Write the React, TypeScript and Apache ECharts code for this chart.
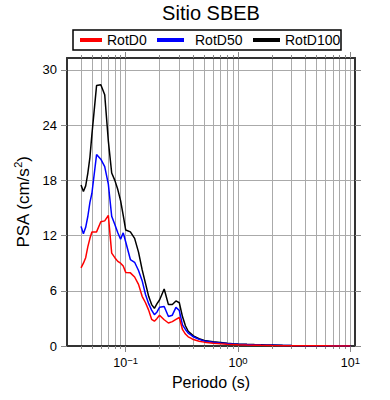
import React, { useEffect, useRef } from 'react';
import * as echarts from 'echarts';

const periods = [
  0.04, 0.042, 0.044, 0.046, 0.048, 0.05, 0.055, 0.06, 0.065, 0.07,
  0.075, 0.08, 0.085, 0.09, 0.095, 0.1, 0.11, 0.12, 0.13, 0.14,
  0.15, 0.16, 0.17, 0.18, 0.19, 0.2, 0.22, 0.24, 0.26, 0.28,
  0.3, 0.32, 0.34, 0.36, 0.38, 0.4, 0.45, 0.5, 0.6, 0.7,
  0.8, 0.9, 1.0, 1.2, 1.4, 1.6, 1.8, 2.0, 2.5, 3.0,
  4.0, 5.0, 6.0, 7.0, 8.0, 9.0, 10.0,
];

const rotD0 = [
  8.5, 9.0, 9.6, 10.8, 11.7, 12.4, 12.4, 13.5, 13.6, 14.2,
  10.1, 9.6, 9.2, 9.0, 8.7, 8.0, 7.95, 7.5, 6.7, 5.4,
  4.7, 3.9, 2.9, 2.7, 3.0, 3.35, 2.85, 2.5, 2.65, 2.9,
  3.1, 1.8, 1.3, 1.0, 0.85, 0.7, 0.52, 0.42, 0.3, 0.24,
  0.19, 0.16, 0.14, 0.11, 0.09, 0.075, 0.065, 0.055, 0.04, 0.032,
  0.022, 0.017, 0.014, 0.011, 0.009, 0.008, 0.007,
];

const rotD50 = [
  13.0, 12.2, 12.9, 14.1, 15.6, 16.6, 20.8, 20.3, 19.5, 17.6,
  14.1, 13.2, 12.3, 11.6, 12.3, 11.3, 9.4, 9.1, 8.2, 7.1,
  5.6, 4.6, 3.9, 3.4, 3.7, 4.2, 4.3, 3.2, 3.35, 4.2,
  3.85, 2.3, 1.8, 1.4, 1.2, 1.0, 0.72, 0.55, 0.4, 0.32,
  0.26, 0.22, 0.19, 0.15, 0.12, 0.1, 0.09, 0.08, 0.06, 0.045,
  0.03, 0.025, 0.02, 0.016, 0.014, 0.012, 0.01,
];

const rotD100 = [
  17.5, 16.8, 17.4, 18.8, 20.5, 23.0, 28.3, 28.4, 27.3, 22.3,
  18.8, 18.0, 17.0, 15.8, 14.2, 12.6, 12.4, 11.7, 10.2, 8.3,
  6.8, 5.4, 4.5, 4.1, 4.6, 5.0, 6.2, 4.5, 4.5, 4.9,
  4.7, 3.2, 2.2, 1.6, 1.35, 1.1, 0.8, 0.6, 0.45, 0.37,
  0.3, 0.25, 0.22, 0.18, 0.15, 0.13, 0.11, 0.1, 0.07, 0.055,
  0.04, 0.03, 0.025, 0.02, 0.017, 0.015, 0.013,
];

const seriesNames = ['RotD0', 'RotD50', 'RotD100'];
const seriesColors = ['#ff0000', '#0000ff', '#000000'];

const yTicks = [0, 6, 12, 18, 24, 30];
const xMajor = [0.1, 1, 10];
const xMinor = [
  0.04, 0.05, 0.06, 0.07, 0.08, 0.09,
  0.1, 0.2, 0.3, 0.4, 0.5, 0.6, 0.7, 0.8, 0.9,
  1, 2, 3, 4, 5, 6, 7, 8, 9, 10,
];

const FONT = '"Liberation Sans", Arial, Helvetica, sans-serif';

export default function App() {
  const ref = useRef<HTMLDivElement>(null);

  useEffect(() => {
    document.body.style.margin = '0';
    const chart = echarts.init(ref.current as HTMLDivElement, null, { renderer: 'svg' });
    const pairs = (ys: number[]) => periods.map((p, i) => [p, ys[i]]);
    const frame = { show: true, lineStyle: { color: '#333', width: 2 } };
    const tickStyle = { color: '#888', width: 1 };
    const baseX = { type: 'log', logBase: 10, min: 0.03, max: 11, gridIndex: 0 };
    const expFmt = (v: number) => {
      const l = Math.log10(v);
      const e = Math.round(l);
      if (Math.abs(l - e) > 1e-6) return '';
      return `{b|10}{s|${e < 0 ? '\u2212' + -e : e}}`;
    };

    chart.setOption({
      animation: false,
      textStyle: { fontFamily: FONT },
      grid: { left: 67, right: 35, top: 58, bottom: 54, containLabel: false },
      graphic: [
        {
          type: 'text',
          x: 211,
          y: 13,
          style: {
            text: 'Sitio SBEB',
            fontSize: 20,
            fontFamily: FONT,
            fill: '#000',
            textAlign: 'center',
            textVerticalAlign: 'middle',
            align: 'center',
            verticalAlign: 'middle',
          },
        },
        {
          type: 'rect',
          shape: { x: 73, y: 30, width: 268, height: 20 },
          style: { fill: 'none', stroke: '#000', lineWidth: 1.5 },
          z: 1,
        },
      ],
      legend: [
        { name: 'RotD0', left: 80, width: 22, textPad: 0 },
        { name: 'RotD50', left: 157, width: 27, textPad: 6 },
        { name: 'RotD100', left: 253, width: 27, textPad: 0 },
      ].map((l) => ({
        data: [l.name],
        left: l.left,
        top: 33,
        padding: 0,
        icon: 'rect',
        itemWidth: l.width,
        itemHeight: 4,
        selectedMode: false,
        textStyle: { fontSize: 14, color: '#000', fontFamily: FONT, padding: [0, 0, 0, l.textPad] },
      })),
      xAxis: [
        {
          ...baseX,
          position: 'bottom',
          axisLine: frame,
          axisTick: { show: true, customValues: xMajor, length: 6, lineStyle: tickStyle },
          axisLabel: {
            customValues: xMajor,
            formatter: expFmt,
            margin: 9,
            rich: {
              b: { fontSize: 12.5, fontFamily: FONT, color: '#000', lineHeight: 16 },
              s: { fontSize: 9.5, fontFamily: FONT, color: '#000', verticalAlign: 'top' },
            },
          },
          splitLine: { show: false },
          name: 'Periodo (s)',
          nameLocation: 'middle',
          nameGap: 26,
          nameTextStyle: { fontSize: 16, fontFamily: FONT, color: '#000' },
        },
        {
          ...baseX,
          position: 'bottom',
          axisLine: { show: false },
          axisTick: { show: true, customValues: xMinor, length: 3, lineStyle: tickStyle },
          axisLabel: { show: false },
          splitLine: { show: true, lineStyle: { color: '#aaa', width: 1 } },
        },
        {
          ...baseX,
          position: 'top',
          axisLine: frame,
          axisTick: { show: true, customValues: xMajor, length: 6, lineStyle: tickStyle },
          axisLabel: { show: false },
          splitLine: { show: false },
        },
        {
          ...baseX,
          position: 'top',
          axisLine: { show: false },
          axisTick: { show: true, customValues: xMinor, length: 3, lineStyle: tickStyle },
          axisLabel: { show: false },
          splitLine: { show: false },
        },
      ],
      yAxis: [
        {
          type: 'value',
          min: 0,
          max: 31.3,
          position: 'left',
          axisLine: frame,
          axisTick: { show: true, customValues: yTicks, length: 6, lineStyle: tickStyle },
          axisLabel: { customValues: yTicks, fontSize: 13, color: '#000', fontFamily: FONT, margin: 10 },
          splitLine: { show: true, lineStyle: { color: '#aaa', width: 1 } },
          name: '{a|PSA (cm/s}{s|2}{a|)}',
          nameLocation: 'middle',
          nameGap: 28,
          nameTextStyle: {
            rich: {
              a: { fontSize: 17, fontFamily: FONT, color: '#000', lineHeight: 21 },
              s: { fontSize: 11, fontFamily: FONT, color: '#000', verticalAlign: 'top' },
            },
          },
        },
        {
          type: 'value',
          min: 0,
          max: 31.3,
          position: 'right',
          axisLine: frame,
          axisTick: { show: true, customValues: yTicks, length: 6, lineStyle: tickStyle },
          axisLabel: { show: false },
          splitLine: { show: false },
        },
      ],
      series: [rotD0, rotD50, rotD100].map((ys, i) => ({
        name: seriesNames[i],
        type: 'line',
        xAxisIndex: 0,
        yAxisIndex: 0,
        data: pairs(ys),
        showSymbol: false,
        symbol: 'none',
        color: seriesColors[i],
        itemStyle: { color: seriesColors[i] },
        lineStyle: { color: seriesColors[i], width: 1.5 },
        z: 4 - i,
      })),
    });

    return () => chart.dispose();
  }, []);

  return (
    <div
      ref={ref}
      style={{ position: 'absolute', left: 0, top: 0, width: 390, height: 400, background: '#fff' }}
    />
  );
}
